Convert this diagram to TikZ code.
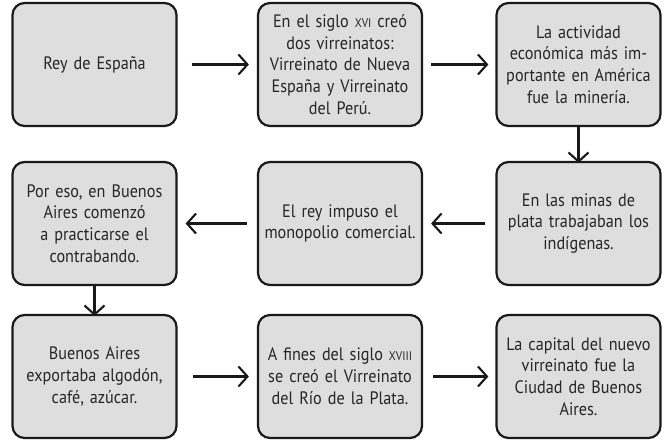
\documentclass[tikz,border=0pt]{standalone}
\usepackage{fontspec}
\setmainfont{PT Sans}[FakeStretch=0.9]
\usetikzlibrary{arrows.meta}
\newcommand{\romsc}[1]{{\fontsize{12.5}{12.5}\selectfont #1}}
\begin{document}
\begin{tikzpicture}[x=1pt,y=-1pt,
  box/.style={draw=black!90, line width=2.2pt, fill=black!13, rounded corners=12pt,
    minimum width=164pt, minimum height=123pt, inner sep=0pt, text width=158pt, align=center,
    text=black!85, font=\fontsize{18}{21.8}\selectfont},
  conn/.style={line width=2.1pt, draw=black!90, -{Straight Barb[length=9pt,width=20pt,line width=2.1pt]}}]
\useasboundingbox (0,0) rectangle (665,440);
\node[box] (b1) at (94.5,64.5) {Rey de España};
\node[box] (b2) at (340,64.5) {En el siglo \romsc{XVI} creó\\ dos virreinatos:\\ Virreinato de Nueva\\ España y Virreinato\\ del Perú.};
\node[box] (b3) at (578.5,64.5) {La actividad\\ económica más im-\\portante en América\\ fue la minería.};
\node[box] (b6) at (578.5,223.5) {En las minas de\\ plata trabajaban los\\ indígenas.};
\node[box] (b5) at (340,223.5) {El rey impuso el\\ monopolio comercial.};
\node[box] (b4) at (94.5,223.5) {Por eso, en Buenos\\ Aires comenzó\\ a practicarse el\\ contrabando.};
\node[box] (b7) at (94.5,376.5) {Buenos Aires\\ exportaba algodón,\\ café, azúcar.};
\node[box] (b8) at (340,376.5) {A fines del siglo \romsc{XVIII}\\ se creó el Virreinato\\ del Río de la Plata.};
\node[box] (b9) at (578.5,376.5) {La capital del nuevo\\ virreinato fue la\\ Ciudad de Buenos\\ Aires.};
\draw[conn] ([xshift=14pt]b1.east) -- ([xshift=-8pt]b2.west);
\draw[conn] ([xshift=8pt]b2.east) -- ([xshift=-7pt]b3.west);
\draw[conn] (b3.south) -- ([yshift=-2pt]b6.north);
\draw[conn] ([xshift=-10pt]b6.west) -- ([xshift=8pt]b5.east);
\draw[conn] ([xshift=-10pt]b5.west) -- ([xshift=8pt]b4.east);
\draw[conn] (b4.south) -- ([yshift=-2pt]b7.north);
\draw[conn] ([xshift=15pt]b7.east) -- ([xshift=-8pt]b8.west);
\draw[conn] ([xshift=10pt]b8.east) -- ([xshift=-7pt]b9.west);
\end{tikzpicture}
\end{document}
